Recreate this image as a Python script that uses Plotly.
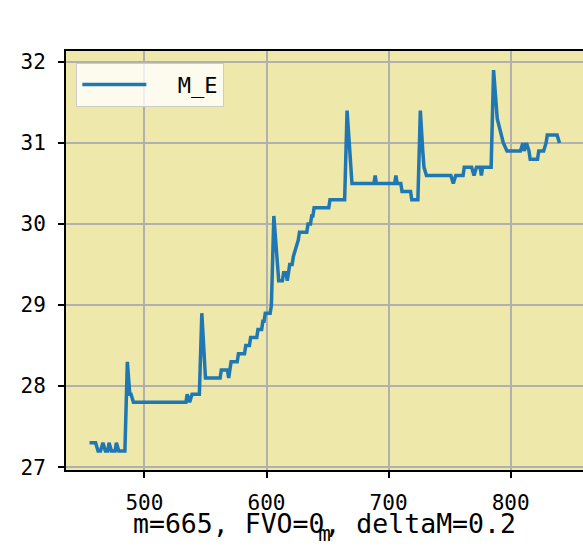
import plotly.graph_objects as go

# data
m_vals = [455, 460, 462, 464, 466, 468, 470, 471, 473, 476, 477, 479, 484, 486, 488, 489, 491,
          534, 535, 537, 539, 545, 547, 550,
          562, 563, 568, 569, 571, 576, 577, 582, 583, 586, 587, 592, 593, 596, 597, 598, 599, 603, 604, 606,
          610, 613, 614, 616, 617, 618, 619, 621, 622, 624, 626, 627, 633, 634, 636, 637, 638, 639, 651, 652, 664, 666, 670,
          688, 689, 690, 705, 706, 707, 710, 711, 718, 719, 724, 726, 728, 729, 731,
          751, 753, 755, 761, 762, 768, 770, 772, 775, 776, 777, 784, 786, 789, 792, 794, 797,
          808, 810, 811, 813, 815, 816, 822, 823, 827, 829, 830, 838, 840]
me_vals = [27.3, 27.3, 27.2, 27.2, 27.3, 27.2, 27.2, 27.3, 27.2, 27.2, 27.3, 27.2, 27.2, 28.3, 27.9, 27.9, 27.8,
           27.8, 27.9, 27.8, 27.9, 27.9, 28.9, 28.1,
           28.1, 28.2, 28.2, 28.1, 28.3, 28.3, 28.4, 28.4, 28.5, 28.5, 28.6, 28.6, 28.7, 28.7, 28.8, 28.8, 28.9, 28.9, 29.0, 30.1,
           29.3, 29.3, 29.4, 29.4, 29.3, 29.4, 29.5, 29.5, 29.6, 29.7, 29.8, 29.9, 29.9, 30.0, 30.0, 30.1, 30.1, 30.2, 30.2, 30.3, 30.3, 31.4, 30.5,
           30.5, 30.6, 30.5, 30.5, 30.6, 30.5, 30.5, 30.4, 30.4, 30.3, 30.3, 31.4, 30.9, 30.7, 30.6,
           30.6, 30.5, 30.6, 30.6, 30.7, 30.7, 30.6, 30.7, 30.7, 30.6, 30.7, 30.7, 31.9, 31.3, 31.1, 31.0, 30.9,
           30.9, 31.0, 30.9, 31.0, 30.9, 30.8, 30.8, 30.9, 30.9, 31.0, 31.1, 31.1, 31.0]
x_ticks = [500, 600, 700, 800]
y_ticks = [27, 28, 29, 30, 31, 32]
series_name = "M_E"
x_title = "m"
note_text = "m=665, FVO=0, deltaM=0.2"

FONT = "DejaVu Sans Mono"

fig = go.Figure()
fig.add_trace(go.Scatter(x=m_vals, y=me_vals, mode="lines", name="\u00a0\u00a0" + series_name,
                         line=dict(color="#1f77b4", width=3.5)))

fig.update_layout(
    width=583, height=553,
    margin=dict(l=66, r=0, t=51, b=83, autoexpand=False),
    paper_bgcolor="white",
    plot_bgcolor="#EEE8AA",
    showlegend=True,
    legend=dict(x=0.02, y=0.972, xanchor="left", yanchor="top",
                bgcolor="rgba(255,255,255,0.8)", bordercolor="#cccccc", borderwidth=1,
                font=dict(family=FONT, size=22, color="black"), itemwidth=64),
    annotations=[dict(text=note_text, xref="paper", yref="paper", x=0.5, y=-0.127,
                      xanchor="center", yanchor="middle", showarrow=False,
                      font=dict(family=FONT, size=26.5, color="black"))],
)
fig.update_xaxes(range=[435.75, 859.25], tickvals=x_ticks, ticks="outside", ticklen=6, tickwidth=1.5,
                 tickcolor="black", showline=True, linecolor="black", linewidth=2, mirror=True,
                 showgrid=True, gridcolor="#b0b0b0", gridwidth=1.5, zeroline=False, automargin=False,
                 tickfont=dict(family=FONT, size=21, color="black"), ticklabelstandoff=7,
                 title=dict(text=x_title, font=dict(family=FONT, size=21, color="black"), standoff=12))
fig.update_yaxes(range=[26.965, 32.135], tickvals=y_ticks, ticks="outside", ticklen=6, tickwidth=1.5,
                 tickcolor="black", showline=True, linecolor="black", linewidth=2, mirror=False,
                 showgrid=True, gridcolor="#b0b0b0", gridwidth=1.5, zeroline=False, automargin=False,
                 tickfont=dict(family=FONT, size=21, color="black"), ticklabelstandoff=8)

fig.write_html("out.html", config={"displayModeBar": False},
               post_script="document.body.style.margin='0';document.body.style.overflow='hidden';")
